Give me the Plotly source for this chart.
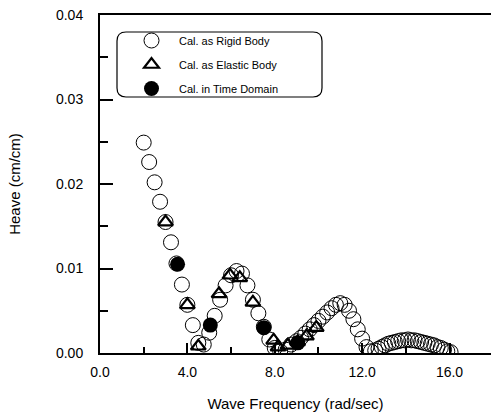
import plotly.graph_objects as go

# Rigid body (open circles)
rigid_x = [2.0, 2.25, 2.5, 2.75, 3.0, 3.25, 3.5, 3.75, 4.0, 4.25, 4.5, 4.75,
           5.0, 5.25, 5.5, 5.75, 6.0, 6.25, 6.5, 6.75, 7.0, 7.25, 7.5, 7.75,
           8.0, 8.25, 8.5, 8.75, 9.0, 9.2, 9.4, 9.6, 9.8, 10.0, 10.2, 10.4,
           10.6, 10.8, 11.0, 11.2, 11.4, 11.6, 11.8, 12.0, 12.2, 12.4,
           12.6, 12.75, 12.9, 13.05, 13.2, 13.35, 13.5, 13.65, 13.8, 13.95,
           14.1, 14.25, 14.4, 14.55, 14.7, 14.85, 15.0, 15.15, 15.3, 15.45,
           15.6, 15.75, 15.9, 16.05]
rigid_y = [0.0249, 0.0226, 0.0202, 0.0179, 0.0155, 0.0131, 0.0106, 0.0081,
           0.0057, 0.0033, 0.0012, 0.0010, 0.0024, 0.0044, 0.0063, 0.0080,
           0.0092, 0.0097, 0.0094, 0.0080, 0.0063, 0.0047, 0.0031, 0.0016,
           0.0006, 0.0002, 0.0004, 0.0010, 0.0014, 0.0018, 0.0023, 0.0028,
           0.0033, 0.0038, 0.0043, 0.0048, 0.0053, 0.0057, 0.0059, 0.0057,
           0.0050, 0.0040, 0.0028, 0.0017, 0.0007, 0.0002,
           0.0003, 0.0005, 0.0007, 0.0009, 0.0011, 0.0012, 0.0013, 0.0014,
           0.0015, 0.0015, 0.0016, 0.0015, 0.0015, 0.0014, 0.0013, 0.0012,
           0.0011, 0.0010, 0.0009, 0.0007, 0.0006, 0.0004, 0.0002, 0.0001]

# Elastic body (open triangles)
elastic_x = [3.0, 4.0, 4.5, 5.45, 5.95, 6.4, 7.0, 7.95, 8.15, 8.6, 9.05, 9.45, 9.9]
elastic_y = [0.0155, 0.0057, 0.0008, 0.0070, 0.0092, 0.0089, 0.0060, 0.0015,
             0.0007, 0.0009, 0.0013, 0.0020, 0.0030]

# Time domain (filled circles)
time_x = [3.55, 5.05, 7.5, 9.05]
time_y = [0.0105, 0.0033, 0.0030, 0.0012]

xtick_vals = [0, 4, 8, 12, 16]
xtick_text = ["0.0", "4.0", "8.0", "12.0", "16.0"]
ytick_vals = [0.0, 0.01, 0.02, 0.03, 0.04]
ytick_text = ["0.00", "0.01", "0.02", "0.03", "0.04"]

FONT = "Arial, Liberation Sans, sans-serif"

fig = go.Figure()
fig.add_trace(go.Scatter(
    x=rigid_x, y=rigid_y, mode="markers", name="Cal. as Rigid Body",
    legendgroup="a",
    marker=dict(symbol="circle-open", size=15, color="black",
                line=dict(width=1, color="black"))))
fig.add_trace(go.Scatter(
    x=elastic_x, y=elastic_y, mode="markers", name="Cal. as Elastic Body",
    legendgroup="b",
    marker=dict(symbol="triangle-up-open", size=13, color="black",
                line=dict(width=2.2, color="black"))))
fig.add_trace(go.Scatter(
    x=time_x, y=time_y, mode="markers", name="Cal. in Time Domain",
    legendgroup="c",
    marker=dict(symbol="circle", size=15, color="black",
                line=dict(width=0))))

L, T, W, H = 100, 15, 491, 417
B = 64
pw = W - L
ph = H - T - B


def px2paper(px, py):
    return (px - L) / pw, (H - B - py) / ph


# rounded legend box
x0, y0, x1, y1, r = 117, 32, 322, 97, 9
def P(px, py):
    a, b = px2paper(px, py)
    return f"{a:.5f},{b:.5f}"
path = (f"M {P(x0 + r, y0)} L {P(x1 - r, y0)} Q {P(x1, y0)} {P(x1, y0 + r)} "
        f"L {P(x1, y1 - r)} Q {P(x1, y1)} {P(x1 - r, y1)} "
        f"L {P(x0 + r, y1)} Q {P(x0, y1)} {P(x0, y1 - r)} "
        f"L {P(x0, y0 + r)} Q {P(x0, y0)} {P(x0 + r, y0)} Z")

lx, ly = px2paper(124, 26)

fig.update_layout(
    width=W, height=H,
    margin=dict(l=L, r=0, t=T, b=B, pad=0),
    paper_bgcolor="white", plot_bgcolor="white",
    font=dict(family=FONT, color="black"),
    showlegend=True,
    legend=dict(x=lx, y=ly, xanchor="left", yanchor="top",
                bgcolor="rgba(0,0,0,0)", borderwidth=0,
                font=dict(size=11, family=FONT),
                tracegroupgap=5, itemwidth=45),
    shapes=[
        dict(type="path", xref="paper", yref="paper", path=path,
             line=dict(color="black", width=1.2), fillcolor="rgba(0,0,0,0)"),
    ],
    xaxis=dict(range=[0, 17.9], showgrid=False, zeroline=False,
               showline=True, linecolor="black", linewidth=2, mirror=True,
               tickvals=xtick_vals, ticktext=xtick_text,
               ticks="inside", ticklen=10, tickwidth=1.5, tickcolor="black",
               minor=dict(tickvals=[2, 6, 10, 14], ticks="inside", ticklen=6,
                          tickwidth=1.5, tickcolor="black"),
               tickfont=dict(size=14, family=FONT),
               ticklabelstandoff=5,
               title=dict(text="Wave Frequency (rad/sec)",
                          font=dict(size=15, family=FONT), standoff=20)),
    yaxis=dict(range=[0, 0.04], showgrid=False, zeroline=False,
               showline=True, linecolor="black", linewidth=2,
               tickvals=ytick_vals, ticktext=ytick_text,
               ticks="inside", ticklen=13, tickwidth=1.5, tickcolor="black",
               minor=dict(tickvals=[0.005, 0.015, 0.025, 0.035], ticks="inside",
                          ticklen=8, tickwidth=1.5, tickcolor="black"),
               tickfont=dict(size=14, family=FONT),
               ticklabelstandoff=12,
               title=dict(text="Heave (cm/cm)",
                          font=dict(size=15, family=FONT), standoff=32)),
)

fig.write_html("out.html",
               config={"displayModeBar": False},
               post_script="document.body.style.margin='0';document.body.style.padding='0';")
